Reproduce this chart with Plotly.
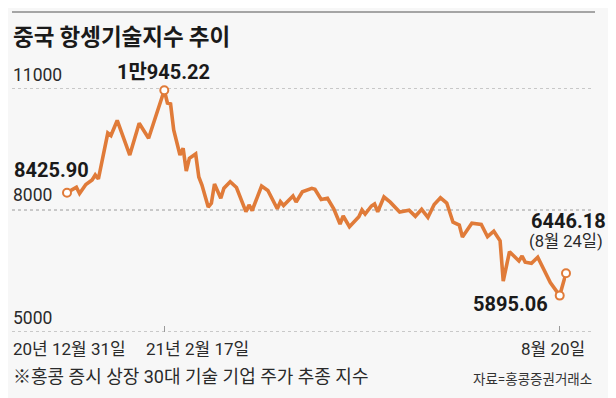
import plotly.graph_objects as go

# ---------------- data ----------------
dates = [
    "2020-12-31", "2021-01-06", "2021-01-07", "2021-01-11", "2021-01-13", "2021-01-14",
    "2021-01-15", "2021-01-20", "2021-01-21", "2021-01-25", "2021-01-29", "2021-02-03",
    "2021-02-08", "2021-02-17", "2021-02-18", "2021-02-19", "2021-02-22", "2021-02-23",
    "2021-02-24", "2021-02-25", "2021-02-26", "2021-03-01", "2021-03-03", "2021-03-04",
    "2021-03-05", "2021-03-09", "2021-03-10", "2021-03-11", "2021-03-15", "2021-03-16",
    "2021-03-18", "2021-03-22", "2021-03-25", "2021-03-26", "2021-03-29", "2021-04-01",
    "2021-04-08", "2021-04-13", "2021-04-14", "2021-04-15", "2021-04-20", "2021-04-21",
    "2021-04-23", "2021-04-28", "2021-04-29", "2021-05-03", "2021-05-05", "2021-05-07",
    "2021-05-11", "2021-05-12", "2021-05-14", "2021-05-20", "2021-05-21", "2021-05-24",
    "2021-05-26", "2021-05-27", "2021-05-28", "2021-06-01", "2021-06-03", "2021-06-08",
    "2021-06-11", "2021-06-16", "2021-06-18", "2021-06-22", "2021-06-24", "2021-06-28",
    "2021-06-30", "2021-07-05", "2021-07-07", "2021-07-08", "2021-07-13", "2021-07-16",
    "2021-07-20", "2021-07-22", "2021-07-26", "2021-07-27", "2021-07-29", "2021-08-03",
    "2021-08-04", "2021-08-05", "2021-08-09", "2021-08-11", "2021-08-12", "2021-08-17",
    "2021-08-20", "2021-08-24",
]
values = [
    8425.90, 8558, 8406, 8627, 8738, 8861,
    8762, 9893, 9832, 10201, 9352, 10132,
    9763, 10945.22, 10631, 10607, 9967, 9640,
    9352, 9517, 8959, 9271, 9377, 8811,
    8615, 8074, 8165, 8639, 8288, 8534,
    8696, 8553, 7958, 8123, 7988, 8590,
    8480, 8030, 8204, 8111, 8344, 8197,
    8450, 8534, 8509, 8258, 8288, 8030,
    7656, 7853, 7589, 7835, 8000, 7902,
    8098, 8148, 7958, 8320, 8192, 7951,
    7993, 7845, 8017, 7820, 8135, 8300,
    8172, 7700, 7631, 7336, 7673, 7643,
    7343, 7479, 7243, 6254, 6975, 6746,
    6869, 6717, 6689, 6837, 6672, 6217,
    5895.06, 6446.18,
]
# Hong Kong exchange holidays (non-trading days) in the period
holidays = ["2021-01-01", "2021-02-12", "2021-02-15", "2021-04-02", "2021-04-05",
            "2021-04-06", "2021-05-19", "2021-06-14", "2021-07-01"]

highlight_dates = ["2020-12-31", "2021-02-17", "2021-08-20", "2021-08-24"]
tick_dates = ["2020-12-31", "2021-02-17", "2021-08-20", "2021-08-24"]
tick_labels = ["20년 12월 31일", "21년 2월 17일", "8월 20일"]
y_ticks = [11000, 8000, 5000]

title_text = "중국 항셍기술지수 추이"
footnote = "※홍콩 증시 상장 30대 기술 기업 주가 추종 지수"
source = "자료=홍콩증권거래소"

# ---------------- style ----------------
OFF = 8                      # page body margin of the browser
W, H = 616 - OFF, 398 - OFF  # figure size
# plot area in page pixels: x 67..566, y 88..332
L = 67 - OFF
T = 88 - OFF
R = W - (566 - OFF)
B = H - (332 - OFF)
BG = "#F7F7F7"
ORANGE = "#E07B39"
GRID = "#9A9A9A"
KR = "Noto Sans CJK KR"
NUM = "Roboto, Noto Sans CJK KR, sans-serif"


def px(x):
    return (x - OFF - L) / (W - L - R)


def py(y):
    return (H - B - (y - OFF)) / (H - T - B)


hl_values = [values[dates.index(d)] for d in highlight_dates]

fig = go.Figure()
fig.add_trace(go.Scatter(
    x=dates, y=values, mode="lines",
    line=dict(color=ORANGE, width=3.6),
    hoverinfo="skip", cliponaxis=False,
))
fig.add_trace(go.Scatter(
    x=highlight_dates, y=hl_values, mode="markers",
    marker=dict(symbol="circle", size=8, color="white",
                line=dict(color=ORANGE, width=2)),
    hoverinfo="skip", cliponaxis=False,
))

shapes = []
# top rule
shapes.append(dict(type="line", xref="paper", yref="paper",
                   x0=px(12), x1=px(595), y0=py(12), y1=py(12),
                   line=dict(color="#8A8A8A", width=1.5)))
# dotted gridlines
for v in y_ticks:
    shapes.append(dict(type="line", xref="paper", yref="y", layer="below",
                       x0=px(12), x1=px(593), y0=v, y1=v,
                       line=dict(color=GRID, width=1, dash="dot")))

annotations = []


def ann(text, x, y, size, family, xanchor="left", color="#1A1A1A", bold=False):
    annotations.append(dict(
        text=f"<b>{text}</b>" if bold else text,
        xref="paper", yref="paper", x=px(x), y=py(y),
        xanchor=xanchor, yanchor="middle", showarrow=False,
        font=dict(size=size, family=family, color=color),
    ))


ann(title_text, 11, 35, 22.5, KR, bold=True, color="#1A1A1A")
# y labels
for v, yc in zip(y_ticks, [74.5, 195, 318]):
    ann(f"{v}", 11, yc, 17.5, NUM, color="#2A2A2A")

# value labels
ann(f"1만{hl_values[1] - 10000:.2f}", 163, 72.5, 20, NUM, xanchor="center", bold=True)
ann(f"{hl_values[0]:.2f}", 11.5, 169.5, 20, NUM, bold=True)
ann(f"{hl_values[2]:.2f}", 550, 303.5, 20, NUM, xanchor="right", bold=True)
ann(f"{hl_values[3]:.2f}", 529, 220.5, 20, NUM, bold=True)
ann("(8월 24일)", 527, 242, 16.5, NUM, color="#2A2A2A")

# x tick labels
ann(tick_labels[0], 11, 348.5, 17, NUM, color="#2A2A2A")
ann(tick_labels[1], 144, 348.5, 17, NUM, color="#2A2A2A")
ann(tick_labels[2], 587, 348.5, 17, NUM, xanchor="right", color="#2A2A2A")

ann(footnote, 11, 376, 18, NUM, color="#2A2A2A")
ann(source, 594, 378.5, 13.5, NUM, xanchor="right", color="#333333")

fig.update_layout(
    width=W, height=H,
    margin=dict(l=L, r=R, t=T, b=B, pad=0),
    paper_bgcolor=BG, plot_bgcolor=BG,
    showlegend=False,
    shapes=shapes, annotations=annotations,
    xaxis=dict(
        type="date",
        range=[dates[0], dates[-1]],
        rangebreaks=[dict(bounds=["sat", "mon"]), dict(values=holidays)],
        tickmode="array", tickvals=tick_dates, ticktext=[""] * len(tick_dates),
        showticklabels=False,
        ticks="inside", ticklen=6, tickwidth=1, tickcolor=GRID,
        showgrid=False, zeroline=False, showline=False,
        fixedrange=True,
    ),
    yaxis=dict(
        range=[5000, 11000],
        showgrid=False, zeroline=False, showline=False,
        showticklabels=False, ticks="",
        fixedrange=True,
    ),
)

fig.write_html("out.html")
